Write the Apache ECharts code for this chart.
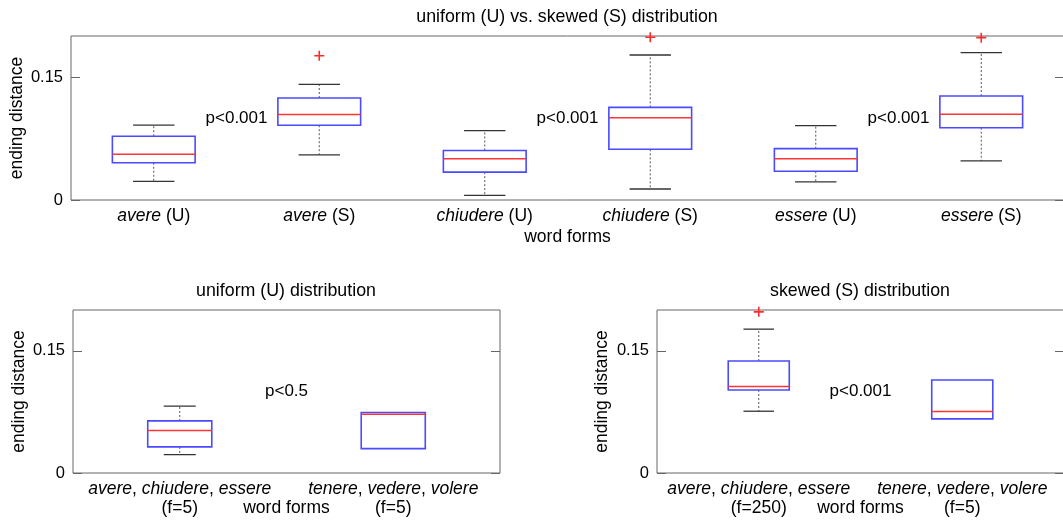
<!DOCTYPE html>
<html>
<head>
<meta charset="utf-8">
<script src="https://cdn.jsdelivr.net/npm/echarts@6/dist/echarts.min.js"></script>
<style>
  html, body { margin: 0; padding: 0; background: #fff; }
  #chart { width: 1063px; height: 520px; }
</style>
</head>
<body>
<div id="chart"></div>
<script>
// ---------- data ----------
const topTitle = 'uniform (U) vs. skewed (S) distribution';
const leftTitle = 'uniform (U) distribution';
const rightTitle = 'skewed (S) distribution';
const yName = 'ending distance';
const xName = 'word forms';
const yTicks = [0, 0.15];

const topCategories = ['avere (U)', 'avere (S)', 'chiudere (U)', 'chiudere (S)', 'essere (U)', 'essere (S)'];
// [low whisker, Q1, median, Q3, high whisker]
const topStats = [
  [0.0227, 0.0454, 0.0559, 0.0778, 0.0912],
  [0.0551, 0.0912, 0.1042, 0.1244, 0.1411],
  [0.0057, 0.0340, 0.0503, 0.0604, 0.0847],
  [0.0134, 0.0618, 0.1004, 0.1130, 0.1768],
  [0.0220, 0.0350, 0.0504, 0.0626, 0.0907],
  [0.0476, 0.0882, 0.1045, 0.1268, 0.1797]
];
const topOutliers = [[1, 0.1759], [3, 0.1984], [5, 0.1980]];
const topPLabels = ['p<0.001', 'p<0.001', 'p<0.001'];
const topPPositions = [[0.5, 0.1], [2.5, 0.1], [4.5, 0.1]];

const uniformCategories = ['avere, chiudere, essere\n(f=5)', 'tenere, vedere, volere\n(f=5)'];
const uniformStats = [
  [0.0225, 0.0320, 0.0520, 0.0639, 0.0820],
  [0.0299, 0.0299, 0.0721, 0.0742, 0.0742]
];
const uniformOutliers = [];
const uniformPLabels = ['p<0.5'];
const uniformPPositions = [[0.5, 0.1]];

const skewedCategories = ['avere, chiudere, essere\n(f=250)', 'tenere, vedere, volere\n(f=5)'];
const skewedStats = [
  [0.0758, 0.1019, 0.1060, 0.1374, 0.1765],
  [0.0664, 0.0664, 0.0754, 0.1141, 0.1141]
];
const skewedOutliers = [[0, 0.1977]];
const skewedPLabels = ['p<0.001'];
const skewedPPositions = [[0.5, 0.1]];

// ---------- styling / helpers ----------
const FONT = "'Liberation Sans', Arial, Helvetica, sans-serif";
const TXT = '#000';
const FRAME = '#666';
const PLUS = 'path://M4.2,0h1.6v4.2h4.2v1.6h-4.2v4.2h-1.6v-4.2h-4.2v-1.6h4.2z';

function italicLabel(value) {
  const lines = value.split('\n');
  const first = lines[0];
  let out;
  if (first.indexOf(',') >= 0) {
    out = first.split(', ').map(w => '{i|' + w + '}').join(', ');
  } else {
    out = first.replace(/^(\S+)/, '{i|$1}');
  }
  if (lines.length > 1) out += '\n' + lines.slice(1).join('\n');
  return out;
}

function boxRenderer(boxFrac, capFrac) {
  return function (params, api) {
    const x = api.value(0);
    const lo = api.coord([x, api.value(1)]);
    const q1 = api.coord([x, api.value(2)]);
    const md = api.coord([x, api.value(3)]);
    const q3 = api.coord([x, api.value(4)]);
    const hi = api.coord([x, api.value(5)]);
    const band = api.size([1, 0])[0];
    const bw = band * boxFrac, cw = band * capFrac;
    const cx = lo[0];
    const children = [];
    const dash = { stroke: '#555', lineWidth: 1, lineDash: [2, 2] };
    const cap = { stroke: '#333', lineWidth: 1.3 };
    if (hi[1] < q3[1] - 0.5) {
      children.push({ type: 'line', shape: { x1: cx, y1: q3[1], x2: cx, y2: hi[1] }, style: dash });
      children.push({ type: 'line', shape: { x1: cx - cw / 2, y1: hi[1], x2: cx + cw / 2, y2: hi[1] }, style: cap });
    }
    if (lo[1] > q1[1] + 0.5) {
      children.push({ type: 'line', shape: { x1: cx, y1: q1[1], x2: cx, y2: lo[1] }, style: dash });
      children.push({ type: 'line', shape: { x1: cx - cw / 2, y1: lo[1], x2: cx + cw / 2, y2: lo[1] }, style: cap });
    }
    children.push({ type: 'rect', shape: { x: cx - bw / 2, y: q3[1], width: bw, height: q1[1] - q3[1] },
      style: { fill: 'none', stroke: '#4a4aff', lineWidth: 1.6 } });
    children.push({ type: 'line', shape: { x1: cx - bw / 2, y1: md[1], x2: cx + bw / 2, y2: md[1] },
      style: { stroke: '#ff3535', lineWidth: 1.5 } });
    return { type: 'group', children: children };
  };
}

function catAxis(gridIndex, data, nameGap) {
  return {
    type: 'category', gridIndex: gridIndex, data: data,
    name: xName, nameLocation: 'middle', nameGap: nameGap, nameMoveOverlap: false,
    nameTextStyle: { fontSize: 17.5, color: TXT, fontFamily: FONT },
    axisLine: { show: false, onZero: false }, axisTick: { show: false }, splitLine: { show: false },
    axisLabel: {
      interval: 0, margin: 7, fontSize: 17.5, color: TXT, fontFamily: FONT, lineHeight: 19,
      formatter: italicLabel,
      rich: { i: { fontStyle: 'italic', fontSize: 17.5, color: TXT, fontFamily: FONT, lineHeight: 19 } }
    }
  };
}
function hiddenX(gridIndex, n) {
  return { type: 'value', gridIndex: gridIndex, min: -0.5, max: n - 0.5, show: false,
    axisLine: { onZero: false } };
}
function yLeft(gridIndex, gap) {
  return {
    type: 'value', gridIndex: gridIndex, min: 0, max: 0.2, position: 'left',
    name: yName, nameLocation: 'middle', nameGap: gap, nameMoveOverlap: false,
    nameTextStyle: { fontSize: 17.5, color: TXT, fontFamily: FONT },
    axisLine: { show: false, onZero: false }, splitLine: { show: false },
    axisTick: { show: true, inside: true, length: 9, customValues: yTicks, lineStyle: { color: FRAME } },
    axisLabel: { customValues: yTicks, margin: 8, fontSize: 16.5, color: TXT, fontFamily: FONT }
  };
}
function yRight(gridIndex) {
  return {
    type: 'value', gridIndex: gridIndex, min: 0, max: 0.2, position: 'right',
    axisLine: { show: false, onZero: false }, splitLine: { show: false },
    axisTick: { show: true, inside: true, length: 9, customValues: yTicks, lineStyle: { color: FRAME } },
    axisLabel: { show: false }
  };
}
function boxSeries(xi, yi, stats, boxFrac, capFrac) {
  return {
    type: 'custom', xAxisIndex: xi, yAxisIndex: yi,
    renderItem: boxRenderer(boxFrac, capFrac),
    encode: { x: 0, y: [1, 2, 3, 4, 5] },
    data: stats.map((s, i) => [i].concat(s)),
    clip: false, z: 3
  };
}
function outlierSeries(xi, yi, pts) {
  return {
    type: 'scatter', xAxisIndex: xi, yAxisIndex: yi, data: pts,
    symbol: PLUS, symbolSize: 10, itemStyle: { color: '#ff2a2a', opacity: 1 }, clip: false, z: 4, silent: true
  };
}
function textSeries(xi, yi, pts, labels) {
  return {
    type: 'scatter', xAxisIndex: xi, yAxisIndex: yi,
    data: pts.map((p, i) => ({ value: p, name: labels[i] })),
    symbolSize: 1, itemStyle: { color: 'rgba(0,0,0,0)', opacity: 1 }, silent: true,
    label: { show: true, position: 'inside', formatter: '{b}', fontSize: 17, color: TXT, fontFamily: FONT,
      textBorderWidth: 0, opacity: 1 }
  };
}

const gridStyle = { show: true, borderColor: FRAME, borderWidth: 1, backgroundColor: '#fff',
  outerBoundsMode: 'none', containLabel: false };

const option = {
  animation: false,
  backgroundColor: '#fff',
  textStyle: { fontFamily: FONT },
  title: [
    { text: topTitle, left: 567, top: 8, textAlign: 'center', padding: 0,
      textStyle: { fontSize: 17.8, fontWeight: 'normal', color: TXT, fontFamily: FONT } },
    { text: leftTitle, left: 286, top: 282, textAlign: 'center', padding: 0,
      textStyle: { fontSize: 17.8, fontWeight: 'normal', color: TXT, fontFamily: FONT } },
    { text: rightTitle, left: 860, top: 282, textAlign: 'center', padding: 0,
      textStyle: { fontSize: 17.8, fontWeight: 'normal', color: TXT, fontFamily: FONT } }
  ],
  grid: [
    Object.assign({ left: 71, right: -1, top: 36, height: 164 }, gridStyle),
    Object.assign({ left: 73, width: 427, top: 310, height: 163 }, gridStyle),
    Object.assign({ left: 657, right: -1, top: 310, height: 163 }, gridStyle)
  ],
  xAxis: [
    catAxis(0, topCategories, 28), hiddenX(0, topCategories.length),
    catAxis(1, uniformCategories, 26), hiddenX(1, uniformCategories.length),
    catAxis(2, skewedCategories, 26), hiddenX(2, skewedCategories.length)
  ],
  yAxis: [yLeft(0, 45), yRight(0), yLeft(1, 45), yRight(1), yLeft(2, 46), yRight(2)],
  series: [
    boxSeries(0, 0, topStats, 0.5, 0.25),
    outlierSeries(0, 0, topOutliers),
    textSeries(1, 0, topPPositions, topPLabels),
    boxSeries(2, 2, uniformStats, 0.3, 0.15),
    outlierSeries(2, 2, uniformOutliers),
    textSeries(3, 2, uniformPPositions, uniformPLabels),
    boxSeries(4, 4, skewedStats, 0.3, 0.15),
    outlierSeries(4, 4, skewedOutliers),
    textSeries(5, 4, skewedPPositions, skewedPLabels)
  ]
};

const chart = echarts.init(document.getElementById('chart'), null, { renderer: 'canvas' });
chart.setOption(option);
</script>
</body>
</html>
